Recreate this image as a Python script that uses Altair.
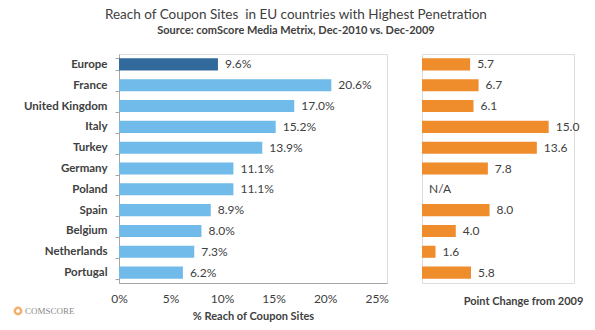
import altair as alt
import pandas as pd

countries = ["Europe", "France", "United Kingdom", "Italy", "Turkey", "Germany",
             "Poland", "Spain", "Belgium", "Netherlands", "Portugal"]
reach = [9.6, 20.6, 17.0, 15.2, 13.9, 11.1, 11.1, 8.9, 8.0, 7.3, 6.2]
change = [5.7, 6.7, 6.1, 15.0, 13.6, 7.8, None, 8.0, 4.0, 1.6, 5.8]
reach_ticks = [0, 5, 10, 15, 20, 25]

df = pd.DataFrame({"country": countries, "reach": reach, "change": change})

FONT = "Lato"
TXT = "#404040"
DARK = "#336A9C"
LIGHT = "#70BBEA"
ORANGE = "#EF8C2C"

yscale = alt.Scale(paddingInner=0.42, paddingOuter=0.21)
H = 229

y_left = alt.Y("country:N", sort=countries, scale=yscale,
               axis=alt.Axis(title=None, labelFont=FONT, labelFontSize=11.5, labelFontWeight="bold",
                             labelColor=TXT, labelPadding=8, tickBand="extent", tickSize=4,
                             tickColor="#a6a6a6", domainColor="#a6a6a6",
                             minExtent=110, maxExtent=110))

bars_l = alt.Chart(df).mark_bar().encode(
    x=alt.X("reach:Q", scale=alt.Scale(domain=[0, 25]),
            axis=alt.Axis(values=reach_ticks, labelExpr="datum.value + '%'", grid=False, ticks=False,
                          labelFlush=False,
                          domainColor="#a6a6a6", labelFont=FONT, labelFontSize=12, labelColor=TXT,
                          labelPadding=10, title="% Reach of Coupon Sites", titleFont=FONT,
                          titleFontSize=11, titleFontWeight="bold", titleColor=TXT, titlePadding=6)),
    y=y_left,
    color=alt.condition(alt.datum.country == "Europe", alt.value(DARK), alt.value(LIGHT)),
)
text_l = alt.Chart(df).transform_calculate(
    label="format(datum.reach, '.1f') + '%'"
).mark_text(align="left", dx=7, font=FONT, fontSize=12, color=TXT).encode(
    x="reach:Q", y=alt.Y("country:N", sort=countries, scale=yscale), text="label:N")

logo_dot = alt.Chart(df).transform_filter(alt.datum.country == "Europe").mark_point(
    filled=False, color=ORANGE, size=40, strokeWidth=2.5).encode(
    x=alt.value(-101), y=alt.value(257))
logo_txt = alt.Chart(df).transform_filter(alt.datum.country == "Europe").mark_text(
    align="left", baseline="middle", font="Liberation Serif", fontSize=9, color="#8a8a8a",
    text="COMSCORE").encode(x=alt.value(-94), y=alt.value(257))

left = alt.layer(bars_l, text_l, logo_dot, logo_txt).properties(width=268, height=H)

y_right = alt.Y("country:N", sort=countries, scale=yscale, axis=None)
bars_r = alt.Chart(df).transform_filter("datum.change != null").mark_bar(color=ORANGE).encode(
    x=alt.X("change:Q", scale=alt.Scale(domain=[0, 17]),
            axis=alt.Axis(labels=False, ticks=False, domain=False, grid=False,
                          title="Point Change from 2009", titleFont=FONT, titleFontSize=11,
                          titleFontWeight="bold", titleColor=TXT, titlePadding=12, titleX=101)),
    y=y_right,
)
text_r = alt.Chart(df).transform_calculate(
    label="datum.change == null ? 'N/A' : format(datum.change, '.1f')",
    pos="datum.change == null ? 0 : datum.change"
).mark_text(align="left", dx=7, font=FONT, fontSize=12, color=TXT).encode(
    x="pos:Q", y=y_right, text="label:N")

right = alt.layer(bars_r, text_r).properties(width=152, height=H)

chart = alt.hconcat(left, right, spacing=32).properties(
    title=alt.TitleParams(
        text="Reach of Coupon Sites\u00a0 in EU countries with Highest Penetration",
        subtitle="Source: comScore Media Metrix, Dec-2010 vs. Dec-2009",
        font=FONT, fontSize=13.5, fontWeight="normal", color=TXT,
        subtitleFont=FONT, subtitleFontSize=11, subtitleFontWeight="bold", subtitleColor=TXT,
        subtitlePadding=3, anchor="middle", offset=12),
    padding={"left": 8, "top": 8, "right": 5, "bottom": 5},
).configure_view(stroke=None).configure(background="white")

chart.save("out.html", embed_options={"renderer": "svg", "actions": False})
